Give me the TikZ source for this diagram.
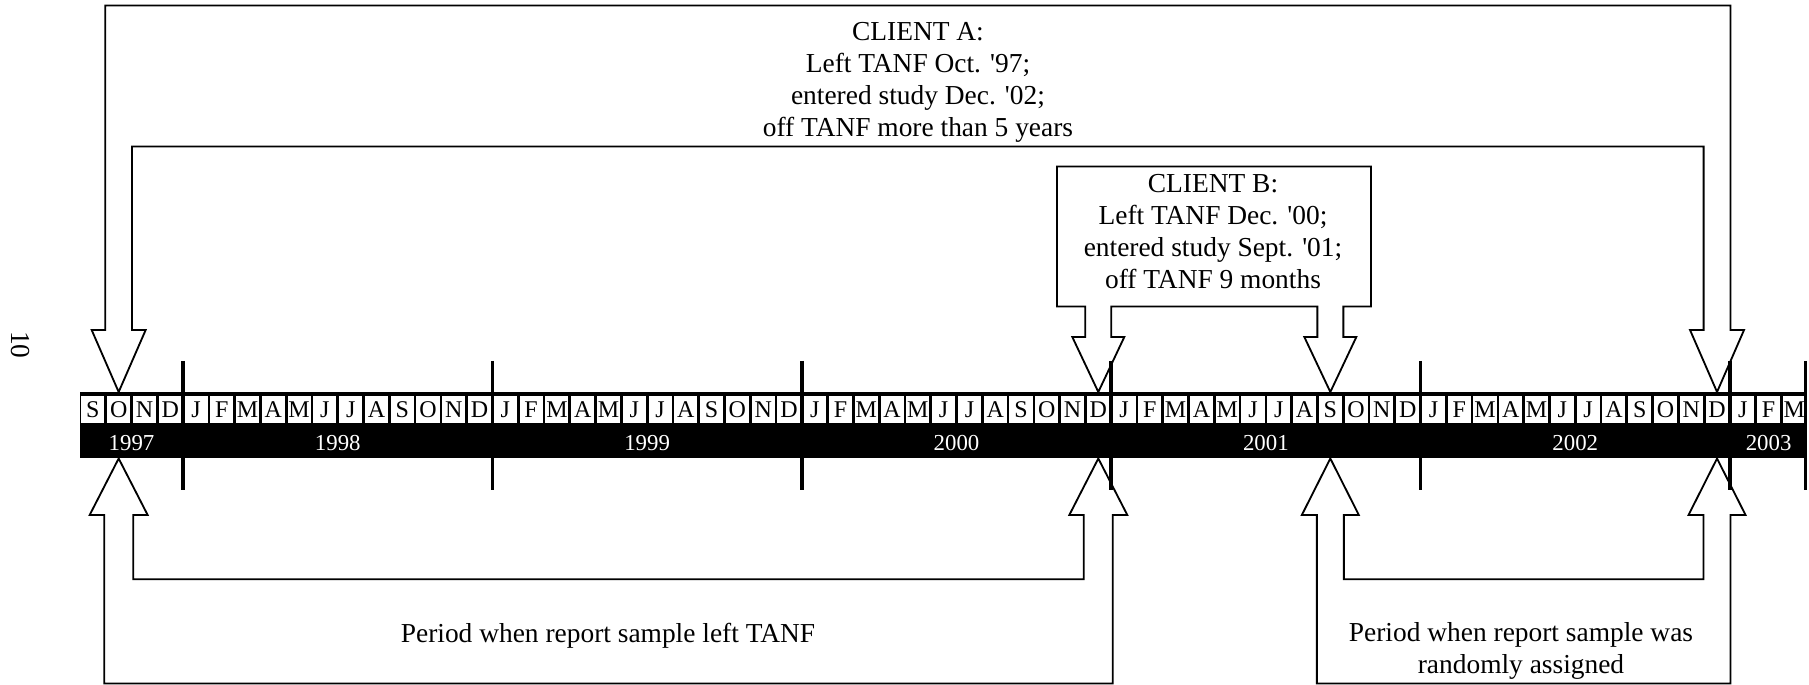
\documentclass[tikz,border=0pt]{standalone}
\usepackage{fontspec}
\setmainfont{Liberation Serif}
\usetikzlibrary{calc}

\newcommand{\monx}{80}
\newcommand{\monw}{25.78}
\newcommand{\sq}{\textquotesingle}
% twin headed bent arrow: #1,#2 month nodes, #3 tip y, #4 head base y,
% #5 inner y, #6 outer y, #7 head half width, #8 shaft half width
\newcommand{\twinarrow}[8]{%
  \draw[arrowline] ($(#1|-0,#6)+(-#8,0)$) -- ($(#2|-0,#6)+(#8,0)$) -- ($(#2|-0,#4)+(#8,0)$)
    -- ($(#2|-0,#4)+(#7,0)$) -- (#2|-0,#3) -- ($(#2|-0,#4)+(-#7,0)$) -- ($(#2|-0,#4)+(-#8,0)$)
    -- ($(#2|-0,#5)+(-#8,0)$) -- ($(#1|-0,#5)+(#8,0)$) -- ($(#1|-0,#4)+(#8,0)$)
    -- ($(#1|-0,#4)+(#7,0)$) -- (#1|-0,#3) -- ($(#1|-0,#4)+(-#7,0)$) -- ($(#1|-0,#4)+(-#8,0)$) -- cycle;}

\begin{document}
\begin{tikzpicture}[x=0.4377pt, y=-0.4377pt,
    every node/.style={font=\fontsize{12}{14}\selectfont, inner sep=0pt},
    arrowline/.style={draw, line width=0.8pt, line join=miter},
    monbox/.style={fill=white, minimum width=10.1pt, minimum height=11.8pt,
      text height=7pt, text depth=0pt, font=\fontsize{10.5}{12}\selectfont},
    yearlbl/.style={text=white, anchor=base, font=\fontsize{10}{12}\selectfont},
    yeartick/.style={line width=1.6pt},
    note/.style={align=center}]
  \useasboundingbox (0,0) rectangle (1809,685);

  \node[rotate=-90] (pagenum) at (20,345) {10};

  % timeline
  \fill (\monx,392) rectangle ({\monx+67*\monw},458.5);
  \foreach \i in {0,...,66} {
    \pgfmathparse{{"J","F","M","A","M","J","J","A","S","O","N","D"}[int(mod(\i+8,12))]}
    \edef\monlet{\pgfmathresult}
    \node[monbox] (mon-\i) at ({\monx+(\i+0.5)*\monw},409.5) {\monlet};
  }
  \foreach \yr/\c in {1997/2,1998/10,1999/22,2000/34,2001/46,2002/58,2003/65.5}
    \node[yearlbl] (yr-\yr) at ({\monx+\c*\monw},451) {\yr};

  % client A
  \twinarrow{mon-1}{mon-63}{392}{330}{146.5}{5.5}{27}{13.4}
  \node[note] (clientA) at (918,82.5) {CLIENT A:\\Left TANF Oct. \sq97;\\entered study Dec. \sq02;\\off TANF more than 5 years};

  % client B
  \draw[arrowline] (1057,166.5) -- (1371,166.5) -- (1371,306.5)
    -- ($(mon-48|-0,306.5)+(13,0)$) -- ($(mon-48|-0,337)+(13,0)$) -- ($(mon-48|-0,337)+(26,0)$)
    -- (mon-48|-0,392) -- ($(mon-48|-0,337)+(-26,0)$) -- ($(mon-48|-0,337)+(-13,0)$)
    -- ($(mon-48|-0,306.5)+(-13,0)$) -- ($(mon-39|-0,306.5)+(13,0)$) -- ($(mon-39|-0,337)+(13,0)$)
    -- ($(mon-39|-0,337)+(26,0)$) -- (mon-39|-0,392) -- ($(mon-39|-0,337)+(-26,0)$)
    -- ($(mon-39|-0,337)+(-13,0)$) -- ($(mon-39|-0,306.5)+(-13,0)$) -- (1057,306.5) -- cycle;
  \node[note] (clientB) at (1213,231.5) {CLIENT B:\\Left TANF Dec. \sq00;\\entered study Sept. \sq01;\\off TANF 9 months};

  % sample periods
  \twinarrow{mon-1}{mon-39}{458.5}{515}{579.3}{683.5}{29}{14.5}
  \twinarrow{mon-48}{mon-63}{458.5}{515}{579.3}{683.5}{28.5}{13.5}
  \node[anchor=base] (leftper) at (608,643) {Period when report sample left TANF};
  \node[note] (randper) at (1521,651) {Period when report sample was\\randomly assigned};

  % year ticks
  \foreach \k in {4,16,...,64}
    \draw[yeartick] ({\monx+\k*\monw},361) -- ({\monx+\k*\monw},490);
  \draw[yeartick] ({\monx+67*\monw-1.8},361) -- ({\monx+67*\monw-1.8},490);
\end{tikzpicture}
\end{document}
